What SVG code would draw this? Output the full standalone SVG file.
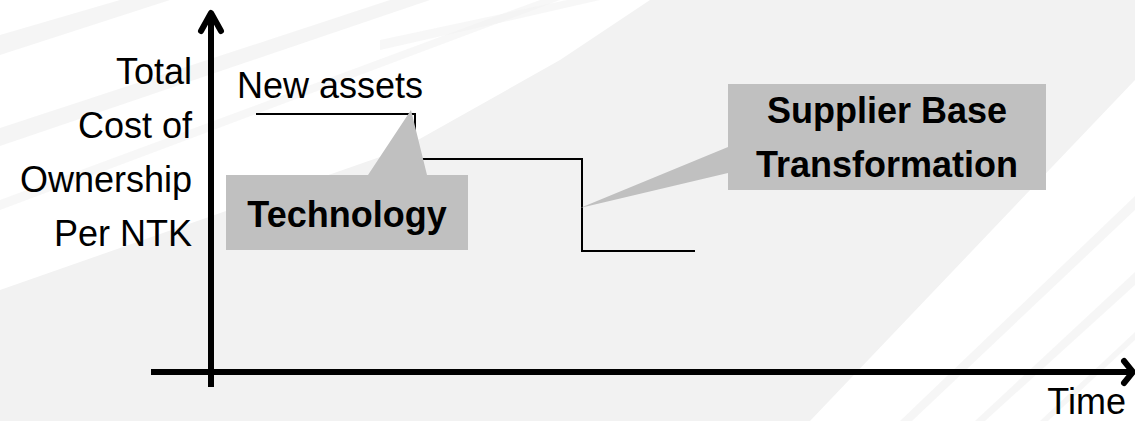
<svg xmlns="http://www.w3.org/2000/svg" width="1135" height="421" viewBox="0 0 1135 421">
<style>
.lbl{font-family:"Liberation Sans",Arial,sans-serif;font-size:36px;fill:#000}
.b{font-weight:bold}
.axis{stroke:#000;stroke-width:6;fill:none}
.head{stroke:#000;stroke-width:6;fill:none;stroke-linecap:round;stroke-linejoin:round}
.step{stroke:#000;stroke-width:2;fill:none}
.callout{fill:#c0c0c0}
.band{fill:#f2f2f2}
.wh{fill:#ffffff}
</style>
<g id="background">
<rect width="1135" height="421" fill="#f2f2f2"/>
<polygon class="wh" points="0,0 650,0 560,60 400,150 0,290"/>
<polygon class="band" points="0,35 0,55 170,0 120,0" opacity="0.8"/>
<polygon class="band" points="0,128 0,146 430,0 390,0" opacity="0.8"/>
<polygon class="band" points="0,200 0,210 560,0 540,0" opacity="0.6"/>
<polygon class="band" points="380,40 380,50 600,0 567,0" opacity="0.6"/>
<polygon class="wh" points="810,421 1135,421 1135,80"/>
<polygon class="band" points="900,421 912,421 1135,210 1135,196" opacity="0.7"/>
<polygon class="band" points="975,421 985,421 1135,285 1135,272" opacity="0.7"/>
<polygon class="band" points="1040,421 1048,421 1135,340 1135,332" opacity="0.7"/>
</g>
<g id="connectors">
<line class="axis" x1="211" y1="387" x2="211" y2="14"/>
<polyline class="head" points="201,31 211,13 221,31"/>
<line class="axis" x1="151" y1="372" x2="1131" y2="372"/>
<polyline class="head" points="1124,361 1133,372 1124,383"/>
<path class="step" d="M256,114 H415 V159 H582 V251 H695"/>
</g>
<g id="y-label">
<text class="lbl" text-anchor="end" x="192" y="84">Total</text>
<text class="lbl" text-anchor="end" x="192" y="138">Cost of</text>
<text class="lbl" text-anchor="end" x="192" y="192">Ownership</text>
<text class="lbl" text-anchor="end" x="192" y="246">Per NTK</text>
</g>
<g id="new-assets">
<text class="lbl" x="237" y="98">New assets</text>
</g>
<g id="technology">
<path class="callout" d="M226,175 H368 L411,110 L427,175 H468 V250 H226 Z"/>
<text class="lbl b" text-anchor="middle" x="347" y="227">Technology</text>
</g>
<g id="supplier-base">
<path class="callout" d="M728,84 H1046 V190 H728 V173 L580,208 L728,147 Z"/>
<text class="lbl b" text-anchor="middle" x="887" y="123">Supplier Base</text>
<text class="lbl b" text-anchor="middle" x="887" y="177">Transformation</text>
</g>
<g id="x-label">
<text class="lbl" text-anchor="end" x="1126" y="414">Time</text>
</g>
</svg>
